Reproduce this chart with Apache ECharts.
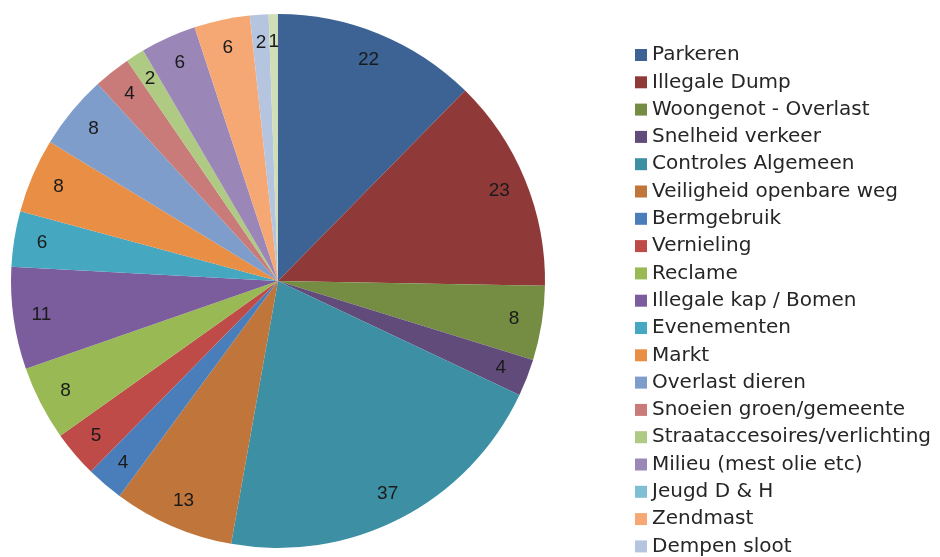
<!DOCTYPE html>
<html>
<head>
<meta charset="utf-8">
<script src="https://cdn.jsdelivr.net/npm/echarts@6/dist/echarts.min.js"></script>
<style>
html, body { margin: 0; padding: 0; background: #fff; }
#chart { width: 940px; height: 557px; }
</style>
</head>
<body>
<div id="chart"></div>
<script>
// categorieen (laatste valt buiten beeld in de legenda)
const categories = [
	'Parkeren', 'Illegale Dump', 'Woongenot - Overlast', 'Snelheid verkeer',
	'Controles Algemeen', 'Veiligheid openbare weg', 'Bermgebruik', 'Vernieling',
	'Reclame', 'Illegale kap / Bomen', 'Evenementen', 'Markt', 'Overlast dieren',
	'Snoeien groen/gemeente', 'Straataccesoires/verlichting', 'Milieu (mest olie etc)',
	'Jeugd D & H', 'Zendmast', 'Dempen sloot', 'Overig'
];
const values = [22, 23, 8, 4, 37, 13, 4, 5, 8, 11, 6, 8, 8, 4, 2, 6, 0, 6, 2, 1];
const colors = [
	'#3c6394', '#8f3a38', '#758d43', '#614b7b', '#3d8fa4', '#c0753a', '#4a7ebb',
	'#be4b48', '#98b954', '#7b5c9c', '#46a7c1', '#e98f45', '#7e9dca', '#c97b79',
	'#afca82', '#9b87b7', '#7fbfd3', '#f6a874', '#b5c5e0', '#d0deb7'
];

const pieData = categories.map((name, i) => ({ name: name, value: values[i] }));

let myChart = echarts.init(document.getElementById('chart'));
let option = {
	animation: false,
	color: colors,
	legend: {
		orient: 'vertical',
		left: 630,
		top: 40,
		height: 2000,
		itemWidth: 12,
		itemHeight: 12,
		itemGap: 7.3,
		icon: 'rect',
		textStyle: {
			fontFamily: 'DejaVu Sans',
			fontSize: 20,
			lineHeight: 20,
			color: '#262626'
		},
		data: categories
	},
	series: [
		{
			// de taart zelf
			name: 'meldingen',
			type: 'pie',
			center: [278, 281],
			radius: [0, 267],
			startAngle: 90,
			label: { show: false },
			labelLine: { show: false },
			emphasis: { disabled: true },
			data: pieData
		},
		{
			// alleen de getallen, op ca. 0.88 van de straal
			name: 'labels',
			type: 'pie',
			center: [278, 281],
			radius: [205, 267],
			startAngle: 90,
			silent: true,
			itemStyle: { color: 'rgba(0,0,0,0)' },
			label: {
				show: true,
				position: 'inside',
				fontFamily: 'Liberation Sans',
				fontSize: 19,
				color: '#1a1a1a',
				formatter: function (p) {
					return p.value > 0 ? String(p.value) : '';
				}
			},
			labelLine: { show: false },
			emphasis: { disabled: true },
			data: pieData
		}
	]
};
myChart.setOption(option);
</script>
</body>
</html>
